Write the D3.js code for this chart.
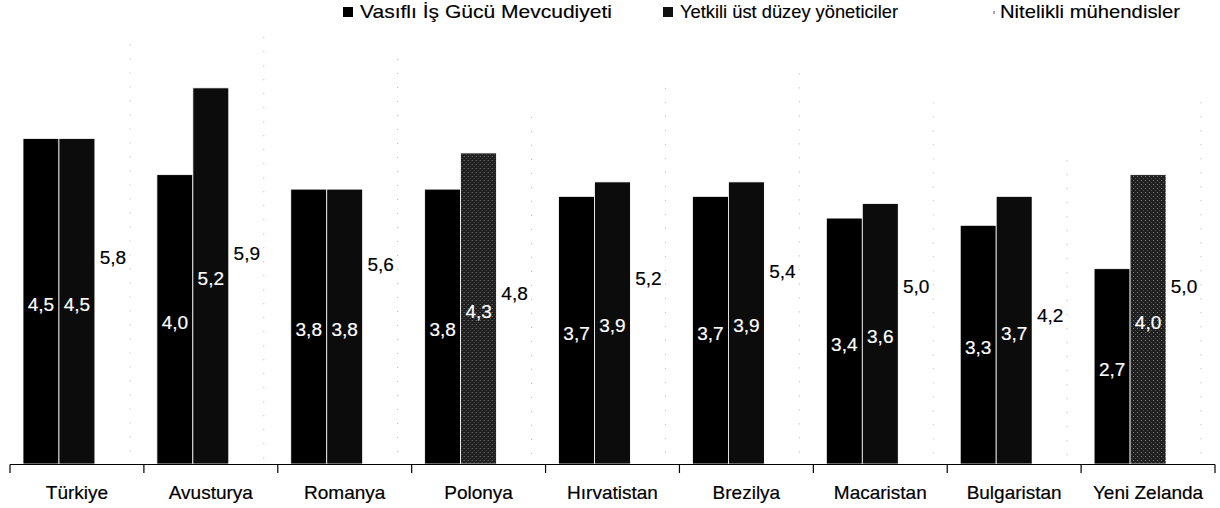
<!DOCTYPE html>
<html>
<head>
<meta charset="utf-8">
<script src="https://cdn.jsdelivr.net/npm/d3@7"></script>
<style>
  html, body { margin: 0; padding: 0; background: #fff; }
  svg { display: block; font-family: "Liberation Sans", Arial, sans-serif; }
</style>
</head>
<body>
<svg id="chart" width="1220" height="508"></svg>
<script>
// Countries and scores
const categories = ["Türkiye", "Avusturya", "Romanya", "Polonya", "Hırvatistan", "Brezilya", "Macaristan", "Bulgaristan", "Yeni Zelanda"];
const seriesNames = ["Vasıflı İş Gücü Mevcudiyeti", "Yetkili üst düzey yöneticiler", "Nitelikli mühendisler"];
const skilledLabour = [4.5, 4.0, 3.8, 3.8, 3.7, 3.7, 3.4, 3.3, 2.7];
const seniorManagers = [4.5, 5.2, 3.8, 4.3, 3.9, 3.9, 3.6, 3.7, 4.0];
const engineers = [5.8, 5.9, 5.6, 4.8, 5.2, 5.4, 5.0, 4.2, 5.0];
const seriesValues = [skilledLabour, seniorManagers, engineers];

// Countries whose manager bars print as a lighter halftone
const halftoneCountries = ["Polonya", "Yeni Zelanda"];

const svg = d3.select("#chart");
const fmt = v => d3.format(".1f")(v).replace(".", ",");

// Halftone pattern
const defs = svg.append("defs");
const pat = defs.append("pattern")
  .attr("id", "halftone").attr("patternUnits", "userSpaceOnUse")
  .attr("width", 4).attr("height", 4);
pat.append("rect").attr("width", 4).attr("height", 4).attr("fill", "#1e1e1e");
pat.append("rect").attr("x", 0).attr("y", 0).attr("width", 1).attr("height", 1).attr("fill", "#8a8a8a");
pat.append("rect").attr("x", 2).attr("y", 2).attr("width", 1).attr("height", 1).attr("fill", "#5a5a5a");

const x0 = d3.scaleBand().domain(categories).range([10, 1215]).padding(0);
const x1 = d3.scaleBand().domain(d3.range(3)).range([13, x0.bandwidth() - 13]).padding(0);
const y = d3.scaleLinear().domain([0, 6]).range([464, 30]);

const rows = categories.map((c, i) => ({ c, vals: seriesValues.map(s => s[i]) }));

const groups = svg.append("g").selectAll("g").data(rows).join("g")
  .attr("transform", d => `translate(${x0(d.c)},0)`);

function fillFor(d) {
  if (d.s === 0) return "#000";
  if (d.s === 1) return halftoneCountries.includes(d.c) ? "url(#halftone)" : "#0c0c0c";
  return "#fff";
}

const cells = groups.selectAll("g.cell")
  .data(d => d.vals.map((v, s) => ({ c: d.c, s, v })))
  .join("g").attr("class", "cell");

cells.append("rect")
  .attr("x", d => x1(d.s))
  .attr("y", d => y(d.v))
  .attr("width", x1.bandwidth())
  .attr("height", d => y(0) - y(d.v))
  .attr("fill", fillFor)
  .attr("stroke", d => d.s === 2 ? "none" : "#fff")
  .attr("stroke-width", 0.8);

// faint dotted right edge of the engineer bars
cells.filter(d => d.s === 2).append("line")
  .attr("x1", d => x1(d.s) + x1.bandwidth() - 1)
  .attr("x2", d => x1(d.s) + x1.bandwidth() - 1)
  .attr("y1", d => y(d.v))
  .attr("y2", y(0))
  .attr("stroke", "#b0b0b0")
  .attr("stroke-width", 1)
  .attr("stroke-dasharray", "1,13");

cells.append("text")
  .attr("x", d => x1(d.s) + x1.bandwidth() / 2)
  .attr("y", d => (y(d.v) + y(0)) / 2 + 3)
  .attr("text-anchor", "middle")
  .attr("dominant-baseline", "central")
  .attr("font-size", 19)
  .attr("fill", d => d.s === 2 ? "#000" : "#fff")
  .attr("stroke", d => d.s === 2 ? "#000" : "#fff")
  .attr("stroke-width", 0.2)
  .text(d => fmt(d.v));

// Category axis
const axis = svg.append("g");
axis.append("line")
  .attr("x1", x0.range()[0]).attr("x2", x0.range()[1])
  .attr("y1", 464.5).attr("y2", 464.5)
  .attr("stroke", "#000").attr("stroke-width", 1.2);
const tickXs = categories.map(c => x0(c)).concat([x0.range()[1]]);
axis.selectAll("line.tick").data(tickXs).join("line").attr("class", "tick")
  .attr("x1", d => d).attr("x2", d => d)
  .attr("y1", 464.5).attr("y2", 473)
  .attr("stroke", "#000").attr("stroke-width", 1.2);
axis.selectAll("text").data(categories).join("text")
  .attr("x", d => x0(d) + x0.bandwidth() / 2)
  .attr("y", 499)
  .attr("text-anchor", "middle")
  .attr("font-size", 19)
  .attr("fill", "#000")
  .attr("stroke", "#000")
  .attr("stroke-width", 0.2)
  .text(d => d);

// Legend
const legendItems = [
  { name: seriesNames[0], mx: 343, tx: 360, w: 252, marker: "square", fill: "#000" },
  { name: seriesNames[1], mx: 663, tx: 680, w: 218, marker: "square", fill: "#111" },
  { name: seriesNames[2], mx: 993, tx: 1000, w: 180, marker: "dot", fill: "#aaa" }
];
const legend = svg.append("g");
legendItems.forEach(it => {
  if (it.marker === "square") {
    legend.append("rect").attr("x", it.mx).attr("y", 7).attr("width", 10).attr("height", 10).attr("fill", it.fill);
  } else {
    legend.append("rect").attr("x", it.mx).attr("y", 11).attr("width", 2).attr("height", 3).attr("fill", it.fill);
  }
  legend.append("text")
    .attr("x", it.tx).attr("y", 18)
    .attr("font-size", 19)
    .attr("textLength", it.w)
    .attr("lengthAdjust", "spacingAndGlyphs")
    .attr("fill", "#000")
    .attr("stroke", "#000")
    .attr("stroke-width", 0.15)
    .text(it.name);
});
</script>
</body>
</html>
